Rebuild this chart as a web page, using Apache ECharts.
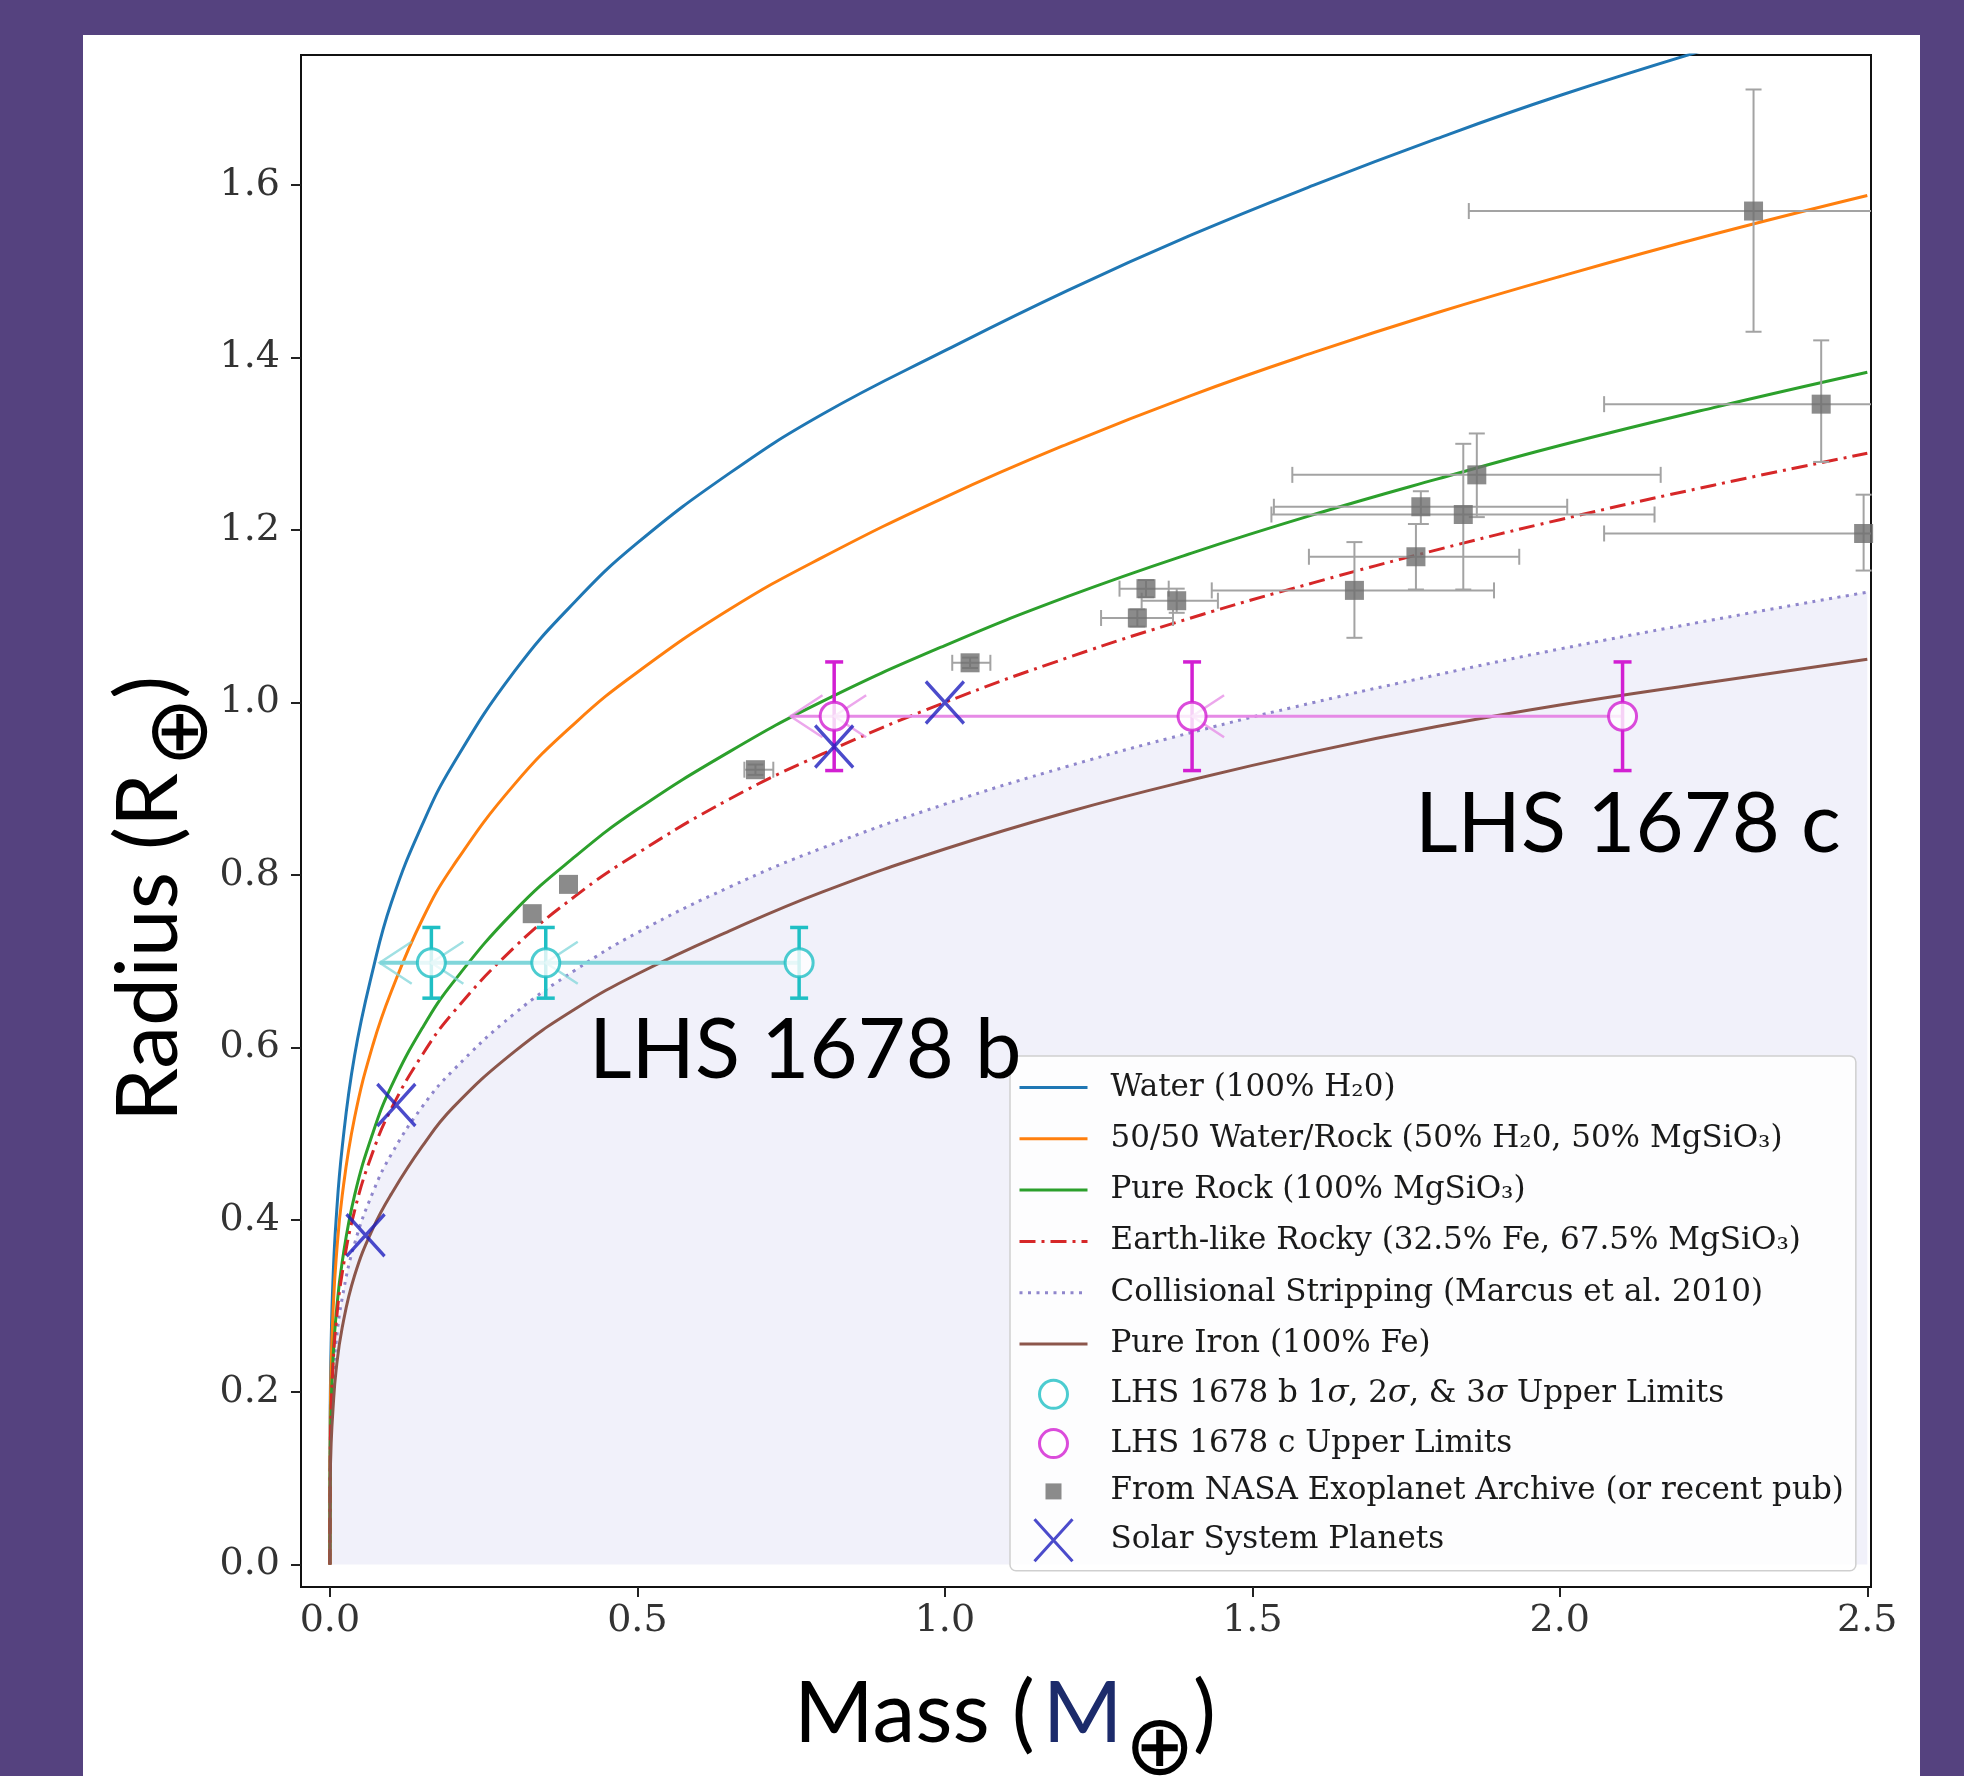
<!DOCTYPE html>
<html>
<head>
<meta charset="utf-8">
<script src="https://cdn.jsdelivr.net/npm/echarts@6/dist/echarts.min.js"></script>
<style>
  html, body { margin: 0; padding: 0; background: #55427f; }
  #panel { position: absolute; left: 83px; top: 35px; width: 1837px; height: 1741px; background: #ffffff; }
  #chart { position: absolute; left: 0; top: 0; width: 1964px; height: 1776px; }
</style>
</head>
<body>
<div id="panel"></div>
<div id="chart"></div>
<script>
// ---------------- data ----------------
const curveMass   = [0, 0.0005, 0.002, 0.005, 0.01, 0.02, 0.04, 0.07, 0.1, 0.15, 0.2, 0.3, 0.4, 0.5, 0.65, 0.8, 1.0, 1.2, 1.4, 1.6, 1.8, 2.0, 2.25, 2.5];
const waterR      = [0, 0.175, 0.256, 0.330, 0.399, 0.484, 0.590, 0.690, 0.768, 0.858, 0.928, 1.036, 1.118, 1.185, 1.266, 1.334, 1.408, 1.478, 1.542, 1.600, 1.654, 1.704, 1.760, 1.812];
const halfWaterR  = [0, 0.156, 0.227, 0.292, 0.353, 0.428, 0.518, 0.603, 0.665, 0.748, 0.810, 0.905, 0.977, 1.035, 1.108, 1.168, 1.238, 1.300, 1.356, 1.406, 1.452, 1.494, 1.543, 1.588];
const rockR       = [0, 0.123, 0.183, 0.237, 0.289, 0.351, 0.428, 0.501, 0.555, 0.622, 0.675, 0.758, 0.822, 0.876, 0.943, 1.001, 1.066, 1.123, 1.173, 1.218, 1.259, 1.298, 1.342, 1.383];
const earthR      = [0, 0.122, 0.179, 0.231, 0.279, 0.338, 0.410, 0.479, 0.529, 0.591, 0.640, 0.716, 0.776, 0.825, 0.888, 0.940, 1.000, 1.052, 1.098, 1.139, 1.177, 1.212, 1.252, 1.289];
const collisionR  = [0, 0.115, 0.167, 0.213, 0.257, 0.309, 0.372, 0.432, 0.476, 0.531, 0.573, 0.639, 0.690, 0.733, 0.786, 0.831, 0.882, 0.926, 0.965, 1.000, 1.032, 1.062, 1.096, 1.128];
const ironR       = [0, 0.095, 0.140, 0.180, 0.225, 0.275, 0.335, 0.390, 0.430, 0.485, 0.530, 0.595, 0.645, 0.685, 0.735, 0.780, 0.830, 0.873, 0.910, 0.943, 0.972, 0.997, 1.024, 1.050];

const nasaMass    = [2.315, 2.425, 2.494, 1.865, 1.774, 1.843, 1.766, 1.666, 1.327, 1.377, 1.313, 1.041, 0.692, 0.388, 0.329];
const nasaMassLo  = [1.852, 2.072, 2.072, 1.565, 1.535, 1.531, 1.592, 1.434, 1.284, 1.320, 1.254, 1.012, 0.674, 0.388, 0.329];
const nasaMassHi  = [2.780, 2.780, 2.920, 2.164, 2.012, 2.154, 1.934, 1.893, 1.364, 1.444, 1.371, 1.074, 0.721, 0.388, 0.329];
const nasaRad     = [1.570, 1.346, 1.196, 1.264, 1.227, 1.218, 1.169, 1.130, 1.132, 1.118, 1.098, 1.046, 0.922, 0.789, 0.755];
const nasaRadLo   = [1.430, 1.279, 1.153, 1.215, 1.207, 1.131, 1.131, 1.075, 1.122, 1.104, 1.088, 1.040, 0.916, 0.789, 0.755];
const nasaRadHi   = [1.711, 1.420, 1.241, 1.312, 1.245, 1.300, 1.207, 1.186, 1.142, 1.132, 1.108, 1.052, 0.928, 0.789, 0.755];

const bMass       = [0.165, 0.351, 0.763];
const bRadius     = [0.698, 0.698, 0.698];
const bRadErr     = [0.041, 0.041, 0.041];
const bLimitMass  = [0.081, 0.165, 0.351];

const cMass       = [0.820, 1.402, 2.102];
const cRadius     = [0.984, 0.984, 0.984];
const cRadErr     = [0.063, 0.063, 0.063];
const cLimitMass  = [0.749, 0.820, 1.402];

const solarMass   = [0.058, 0.108, 0.820, 1.000];
const solarRad    = [0.382, 0.533, 0.949, 1.000];

const xTicks = [0, 0.5, 1.0, 1.5, 2.0, 2.5];
const yTicks = [0, 0.2, 0.4, 0.6, 0.8, 1.0, 1.2, 1.4, 1.6];

const names = {
  water: 'Water (100% H\u20820)',
  half: '50/50 Water/Rock (50% H\u20820, 50% MgSiO\u2083)',
  rock: 'Pure Rock (100% MgSiO\u2083)',
  earth: 'Earth-like Rocky (32.5% Fe, 67.5% MgSiO\u2083)',
  coll: 'Collisional Stripping (Marcus et al. 2010)',
  iron: 'Pure Iron (100% Fe)',
  b: 'LHS 1678 b 1\u03c3, 2\u03c3, & 3\u03c3 Upper Limits',
  c: 'LHS 1678 c Upper Limits',
  nasa: 'From NASA Exoplanet Archive (or recent pub)',
  solar: 'Solar System Planets'
};

// ---------------- styling ----------------
const C = {
  water: '#1f77b4', half: '#ff7f0e', rock: '#2ca02c', earth: '#d62728',
  coll: '#8f86cc', iron: '#8c564b', fill: '#f1f1fa',
  cyan: '#1fbfc4', cyanLine: '#80d6da', mag: '#d21fd2', magLine: '#e68ae6',
  gray: '#6e6e6e', grayBar: '#a3a3a3', blue: '#1e1ebe'
};
const DASH = { solid: 'solid', dashdot: [16, 6, 3, 6], dotted: [3, 5.5] };

const pairs = (xs, ys) => xs.map((x, i) => [x, ys[i]]);

function curve(name, ys, color, type, extra) {
  return Object.assign({
    name, type: 'line', data: pairs(curveMass, ys), showSymbol: false, symbol: 'none',
    smooth: 0.45, clip: true,
    lineStyle: { color, width: 3, type: type || 'solid' }, itemStyle: { color },
    z: 3, silent: true
  }, extra || {});
}

function nasaBars(params, api) {
  const cs = params.coordSys;
  const right = cs.x + cs.width, top = cs.y;
  const m = api.value(0), r = api.value(1), ml = api.value(2), mh = api.value(3), rl = api.value(4), rh = api.value(5);
  const p = api.coord([m, r]), pl = api.coord([ml, r]), ph = api.coord([mh, r]);
  const pb = api.coord([m, rl]), pt = api.coord([m, rh]);
  const style = { stroke: C.grayBar, lineWidth: 2 };
  const cap = 8;
  const ch = [];
  if (mh > ml) {
    ch.push({ type: 'line', shape: { x1: pl[0], y1: p[1], x2: Math.min(ph[0], right), y2: p[1] }, style });
    ch.push({ type: 'line', shape: { x1: pl[0], y1: p[1] - cap, x2: pl[0], y2: p[1] + cap }, style });
    if (ph[0] <= right) ch.push({ type: 'line', shape: { x1: ph[0], y1: p[1] - cap, x2: ph[0], y2: p[1] + cap }, style });
  }
  if (rh > rl) {
    ch.push({ type: 'line', shape: { x1: p[0], y1: Math.max(pt[1], top), x2: p[0], y2: pb[1] }, style });
    ch.push({ type: 'line', shape: { x1: p[0] - cap, y1: pb[1], x2: p[0] + cap, y2: pb[1] }, style });
    if (pt[1] >= top) ch.push({ type: 'line', shape: { x1: p[0] - cap, y1: pt[1], x2: p[0] + cap, y2: pt[1] }, style });
  }
  return { type: 'group', children: ch };
}

function limitBars(color, lineColor, lineW) {
  return function (params, api) {
    const m = api.value(0), r = api.value(1), e = api.value(2), lim = api.value(3);
    const p = api.coord([m, r]), pl = api.coord([lim, r]);
    const pt = api.coord([m, r + e]), pb = api.coord([m, r - e]);
    const cap = 9;
    const vs = { stroke: color, lineWidth: 3.5 };
    const arrow = { stroke: lineColor, lineWidth: 2.5, opacity: 0.75 };
    return {
      type: 'group', children: [
        { type: 'line', shape: { x1: pl[0], y1: p[1], x2: p[0], y2: p[1] }, style: { stroke: lineColor, lineWidth: lineW } },
        { type: 'polyline', shape: { points: [[pl[0] + 32, p[1] - 21], [pl[0], p[1]], [pl[0] + 32, p[1] + 21]] }, style: Object.assign({ fill: null }, arrow) },
        { type: 'line', shape: { x1: p[0], y1: pt[1], x2: p[0], y2: pb[1] }, style: vs },
        { type: 'line', shape: { x1: p[0] - cap, y1: pt[1], x2: p[0] + cap, y2: pt[1] }, style: vs },
        { type: 'line', shape: { x1: p[0] - cap, y1: pb[1], x2: p[0] + cap, y2: pb[1] }, style: vs }
      ]
    };
  };
}

const xPath = 'path://M0,0L38,42M38,0L0,42';
// legend icons: an invisible 86x42 frame (two moveTo points) keeps every icon at its own size
const legendLine   = 'path://M0,0M86,42M0,21L68,21';
const legendCircle = 'path://M0,0M86,42M20,21A14,14 0 1,1 48,21A14,14 0 1,1 20,21Z';
const legendSquare = 'path://M0,0M86,42M26,13L42,13L42,29L26,29Z';
const legendX      = 'path://M0,0M86,42M15,0L53,42M53,0L15,42';

function lineLegend(name, color, type) {
  return { name, icon: legendLine, itemStyle: { color: 'none', borderColor: color, borderWidth: 3, borderType: type, opacity: 1 } };
}

const option = {
  backgroundColor: 'transparent',
  animation: false,
  grid: { left: 301, right: 93, top: 55, bottom: 189, show: true, borderColor: '#111', borderWidth: 2, backgroundColor: '#ffffff' },
  xAxis: {
    type: 'value', min: -0.047, max: 2.506,
    axisLine: { show: true, onZero: false, lineStyle: { color: '#111', width: 2 } },
    axisTick: { show: true, customValues: xTicks, length: 10, lineStyle: { color: '#222', width: 2 } },
    axisLabel: { customValues: xTicks, formatter: v => Number(v).toFixed(1), fontFamily: 'DejaVu Serif', fontSize: 38, color: '#333', margin: 15 },
    splitLine: { show: false }
  },
  yAxis: {
    type: 'value', min: -0.026, max: 1.751,
    axisLine: { show: true, onZero: false, lineStyle: { color: '#111', width: 2 } },
    axisTick: { show: true, customValues: yTicks, length: 10, lineStyle: { color: '#222', width: 2 } },
    axisLabel: { customValues: yTicks, formatter: v => Number(v).toFixed(1), fontFamily: 'DejaVu Serif', fontSize: 38, color: '#333', margin: 21 },
    splitLine: { show: false }
  },
  legend: {
    orient: 'vertical', left: 1010, top: 1056,
    padding: [8, 12, 7, 7], itemGap: 4.3, itemWidth: 86, itemHeight: 42,
    backgroundColor: 'rgba(255,255,255,0.82)', borderColor: '#cfcfcf', borderWidth: 1.5, borderRadius: 6,
    selectedMode: false,
    textStyle: { fontFamily: 'DejaVu Serif', fontSize: 31, color: '#1a1a1a',
      rich: { s: { fontFamily: 'DejaVu Serif', fontSize: 31, fontStyle: 'italic', color: '#1a1a1a' } } },
    formatter: n => n.replace(/\u03c3/g, '{s|\u03c3}'),
    data: [
      lineLegend(names.water, C.water, DASH.solid),
      lineLegend(names.half, C.half, DASH.solid),
      lineLegend(names.rock, C.rock, DASH.solid),
      lineLegend(names.earth, C.earth, DASH.dashdot),
      lineLegend(names.coll, C.coll, DASH.dotted),
      lineLegend(names.iron, C.iron, DASH.solid),
      { name: names.b, icon: legendCircle, itemStyle: { color: '#fff', borderColor: C.cyan, borderWidth: 3 } },
      { name: names.c, icon: legendCircle, itemStyle: { color: '#fff', borderColor: C.mag, borderWidth: 3 } },
      { name: names.nasa, icon: legendSquare, itemStyle: { color: C.gray, borderWidth: 0 } },
      { name: names.solar, icon: legendX, itemStyle: { color: 'none', borderColor: C.blue, borderWidth: 3 } }
    ]
  },
  series: [
    curve(names.coll, collisionR, C.coll, DASH.dotted, { areaStyle: { color: C.fill, opacity: 1 }, z: 1 }),
    curve(names.water, waterR, C.water),
    curve(names.half, halfWaterR, C.half),
    curve(names.rock, rockR, C.rock),
    curve(names.earth, earthR, C.earth, DASH.dashdot),
    curve(names.iron, ironR, C.iron),
    {
      name: 'nasa-errors', type: 'custom', renderItem: nasaBars, z: 4, silent: true,
      data: nasaMass.map((m, i) => [m, nasaRad[i], nasaMassLo[i], nasaMassHi[i], nasaRadLo[i], nasaRadHi[i]]),
      encode: { x: 0, y: 1 }
    },
    {
      name: names.nasa, type: 'scatter', data: pairs(nasaMass, nasaRad), symbol: 'rect', symbolSize: 19,
      itemStyle: { color: C.gray }, z: 5, silent: true
    },
    {
      name: 'b-errors', type: 'custom', renderItem: limitBars(C.cyan, C.cyanLine, 4), z: 6, silent: true,
      data: bMass.map((m, i) => [m, bRadius[i], bRadErr[i], bLimitMass[i]]), encode: { x: 0, y: 1 }
    },
    {
      name: 'c-errors', type: 'custom', renderItem: limitBars(C.mag, C.magLine, 3), z: 6, silent: true,
      data: cMass.map((m, i) => [m, cRadius[i], cRadErr[i], cLimitMass[i]]), encode: { x: 0, y: 1 }
    },
    {
      name: names.b, type: 'scatter', data: pairs(bMass, bRadius), symbol: 'circle', symbolSize: 28,
      itemStyle: { color: '#ffffff', borderColor: C.cyan, borderWidth: 3 }, z: 7, silent: true
    },
    {
      name: names.c, type: 'scatter', data: pairs(cMass, cRadius), symbol: 'circle', symbolSize: 28,
      itemStyle: { color: '#ffffff', borderColor: C.mag, borderWidth: 3 }, z: 7, silent: true
    },
    {
      name: names.solar, type: 'scatter', data: pairs(solarMass, solarRad), symbol: xPath, symbolSize: [38, 42],
      itemStyle: { color: 'none', borderColor: C.blue, borderWidth: 3.5 }, z: 8, silent: true
    }
  ]
};

// ---------------- titles & annotations (text) ----------------
const mctx = document.createElement('canvas').getContext('2d');
function tw(t, font) { mctx.font = font; return mctx.measureText(t).width; }
const bigFont = '86px Lato';
const labFont = '83px Lato';
const subFont = '84px "DejaVu Sans"';

const massX = 794, massMid = 1714;
const wMass = tw('Mass (', bigFont), wM = tw('M', bigFont), wO = tw('\u2295', subFont);
const radW = tw('Radius (R', bigFont);

option.graphic = [
  { type: 'text', x: 589, y: 1051, style: { text: 'LHS 1678 b', font: labFont, fill: '#000', verticalAlign: 'middle' }, z: 50 },
  { type: 'text', x: 1415, y: 825, style: { text: 'LHS 1678 c', font: labFont, fill: '#000', verticalAlign: 'middle' }, z: 50 },
  { type: 'text', x: massX, y: massMid, style: { text: 'Mass (', font: bigFont, fill: '#000', verticalAlign: 'middle' } },
  { type: 'text', x: massX + wMass + 8, y: massMid, style: { text: 'M', font: bigFont, fill: '#1c2b6b', verticalAlign: 'middle' } },
  { type: 'text', x: massX + wMass + wM + 10, y: 1752, style: { text: '\u2295', font: subFont, fill: '#000', verticalAlign: 'middle' } },
  { type: 'text', x: massX + wMass + wM + 8 + wO, y: massMid, style: { text: ')', font: bigFont, fill: '#000', verticalAlign: 'middle' } },
  {
    type: 'group', x: 182, y: 1122, rotation: Math.PI / 2,
    children: [
      { type: 'text', x: 0, y: -33, style: { text: 'Radius (R', font: bigFont, fill: '#000', verticalAlign: 'middle' } },
      { type: 'text', x: radW + 6, y: 2, style: { text: '\u2295', font: subFont, fill: '#000', verticalAlign: 'middle' } },
      { type: 'text', x: radW + 4 + wO, y: -33, style: { text: ')', font: bigFont, fill: '#000', verticalAlign: 'middle' } }
    ]
  }
];

const chart = echarts.init(document.getElementById('chart'), null, { renderer: 'canvas' });
chart.setOption(option);
</script>
</body>
</html>
